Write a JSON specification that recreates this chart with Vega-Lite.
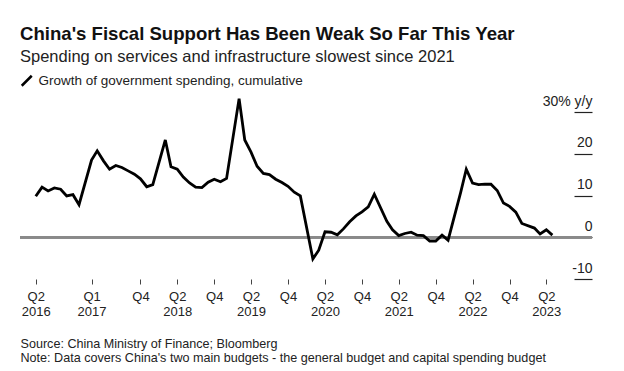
{
  "$schema": "https://vega.github.io/schema/vega-lite/v6.json",
  "width": 572,
  "height": 167,
  "autosize": {"type": "none"},
  "padding": {"left": 20, "top": 112, "right": 32, "bottom": 92},
  "background": "white",
  "title": {
    "text": "China's Fiscal Support Has Been Weak So Far This Year",
    "subtitle": "Spending on services and infrastructure slowest since 2021",
    "anchor": "start",
    "frame": "group",
    "font": "Liberation Sans",
    "fontSize": 18.6,
    "fontWeight": "bold",
    "color": "#111",
    "subtitleFont": "Liberation Sans",
    "subtitleFontSize": 16.5,
    "subtitleColor": "#222",
    "subtitlePadding": 5,
    "offset": 9
  },
  "config": {
    "view": {"stroke": null},
    "font": "Liberation Sans"
  },
  "data": {
    "values": [
      {"month": "2016-05-01", "growth": 9.8},
      {"month": "2016-06-01", "growth": 12.0},
      {"month": "2016-07-01", "growth": 11.1},
      {"month": "2016-08-01", "growth": 11.8},
      {"month": "2016-09-01", "growth": 11.5},
      {"month": "2016-10-01", "growth": 9.9},
      {"month": "2016-11-01", "growth": 10.2},
      {"month": "2016-12-01", "growth": 7.8},
      {"month": "2017-02-01", "growth": 18.5},
      {"month": "2017-03-01", "growth": 20.7},
      {"month": "2017-04-01", "growth": 18.3},
      {"month": "2017-05-01", "growth": 16.3},
      {"month": "2017-06-01", "growth": 17.2},
      {"month": "2017-07-01", "growth": 16.7},
      {"month": "2017-08-01", "growth": 15.9},
      {"month": "2017-09-01", "growth": 15.1},
      {"month": "2017-10-01", "growth": 14.0},
      {"month": "2017-11-01", "growth": 12.1},
      {"month": "2017-12-01", "growth": 12.6},
      {"month": "2018-02-01", "growth": 23.3},
      {"month": "2018-03-01", "growth": 16.9},
      {"month": "2018-04-01", "growth": 16.3},
      {"month": "2018-05-01", "growth": 14.4},
      {"month": "2018-06-01", "growth": 13.0},
      {"month": "2018-07-01", "growth": 12.0},
      {"month": "2018-08-01", "growth": 11.9},
      {"month": "2018-09-01", "growth": 13.2},
      {"month": "2018-10-01", "growth": 13.9},
      {"month": "2018-11-01", "growth": 13.3},
      {"month": "2018-12-01", "growth": 14.1},
      {"month": "2019-02-01", "growth": 33.2},
      {"month": "2019-03-01", "growth": 23.3},
      {"month": "2019-04-01", "growth": 20.4},
      {"month": "2019-05-01", "growth": 17.0},
      {"month": "2019-06-01", "growth": 15.3},
      {"month": "2019-07-01", "growth": 15.0},
      {"month": "2019-08-01", "growth": 13.9},
      {"month": "2019-09-01", "growth": 13.1},
      {"month": "2019-10-01", "growth": 12.2},
      {"month": "2019-11-01", "growth": 10.8},
      {"month": "2019-12-01", "growth": 9.9},
      {"month": "2020-02-01", "growth": -5.2},
      {"month": "2020-03-01", "growth": -3.1},
      {"month": "2020-04-01", "growth": 1.3},
      {"month": "2020-05-01", "growth": 1.2},
      {"month": "2020-06-01", "growth": 0.6},
      {"month": "2020-07-01", "growth": 2.0},
      {"month": "2020-08-01", "growth": 3.7},
      {"month": "2020-09-01", "growth": 5.1},
      {"month": "2020-10-01", "growth": 6.1},
      {"month": "2020-11-01", "growth": 7.3},
      {"month": "2020-12-01", "growth": 10.3},
      {"month": "2021-02-01", "growth": 3.8},
      {"month": "2021-03-01", "growth": 1.8},
      {"month": "2021-04-01", "growth": 0.4},
      {"month": "2021-05-01", "growth": 0.9},
      {"month": "2021-06-01", "growth": 1.2},
      {"month": "2021-07-01", "growth": 0.5},
      {"month": "2021-08-01", "growth": 0.4},
      {"month": "2021-09-01", "growth": -0.9},
      {"month": "2021-10-01", "growth": -0.9},
      {"month": "2021-11-01", "growth": 0.5},
      {"month": "2021-12-01", "growth": -0.7},
      {"month": "2022-02-01", "growth": 10.7},
      {"month": "2022-03-01", "growth": 16.3},
      {"month": "2022-04-01", "growth": 13.0},
      {"month": "2022-05-01", "growth": 12.6},
      {"month": "2022-06-01", "growth": 12.7},
      {"month": "2022-07-01", "growth": 12.7},
      {"month": "2022-08-01", "growth": 11.2},
      {"month": "2022-09-01", "growth": 8.2},
      {"month": "2022-10-01", "growth": 7.4},
      {"month": "2022-11-01", "growth": 6.0},
      {"month": "2022-12-01", "growth": 3.3},
      {"month": "2023-02-01", "growth": 2.2},
      {"month": "2023-03-01", "growth": 0.8},
      {"month": "2023-04-01", "growth": 1.8},
      {"month": "2023-05-01", "growth": 0.5}
    ]
  },
  "layer": [
    {
      "mark": {"type": "rule", "color": "#8a8a8a", "strokeWidth": 2},
      "encoding": {"y": {"datum": 0, "type": "quantitative"}}
    },
    {
      "mark": {"type": "line", "strokeWidth": 2.8, "strokeJoin": "miter"},
      "encoding": {
        "x": {
          "field": "month",
          "type": "temporal",
          "scale": {
            "type": "utc",
            "domain": [
              {"year": 2016, "month": 2, "date": 13, "utc": true},
              {"year": 2023, "month": 11, "date": 13, "utc": true}
            ]
          },
          "axis": {
            "values": [
              {"year": 2016, "month": 5, "date": 1, "utc": true},
              {"year": 2017, "month": 2, "date": 1, "utc": true},
              {"year": 2017, "month": 10, "date": 1, "utc": true},
              {"year": 2018, "month": 4, "date": 1, "utc": true},
              {"year": 2018, "month": 10, "date": 1, "utc": true},
              {"year": 2019, "month": 4, "date": 1, "utc": true},
              {"year": 2019, "month": 10, "date": 1, "utc": true},
              {"year": 2020, "month": 4, "date": 1, "utc": true},
              {"year": 2020, "month": 10, "date": 1, "utc": true},
              {"year": 2021, "month": 4, "date": 1, "utc": true},
              {"year": 2021, "month": 10, "date": 1, "utc": true},
              {"year": 2022, "month": 4, "date": 1, "utc": true},
              {"year": 2022, "month": 10, "date": 1, "utc": true},
              {"year": 2023, "month": 4, "date": 1, "utc": true}
            ],
            "labelExpr": "['Q' + (floor(utcmonth(datum.value) / 3) + 1), utcmonth(datum.value) >= 9 ? '' : '' + utcyear(datum.value)]",
            "domain": false,
            "grid": false,
            "ticks": true,
            "tickSize": 5,
            "tickColor": "#444",
            "tickWidth": 1,
            "labelFont": "Liberation Sans",
            "labelFontSize": 13,
            "labelColor": "#222",
            "labelPadding": 6,
            "labelLineHeight": 15,
            "labelOverlap": false,
            "labelFlush": false,
            "labelBaseline": "top",
            "title": [
              "Source: China Ministry of Finance; Bloomberg",
              "Note: Data covers China's two main budgets - the general budget and capital spending budget"
            ],
            "titleFont": "Liberation Sans",
            "titleFontSize": 12.6,
            "titleFontWeight": "normal",
            "titleColor": "#222",
            "titleAnchor": "start",
            "titleAlign": "left",
            "titleBaseline": "alphabetic",
            "titleX": 0,
            "titleY": 68,
            "titleLineHeight": 14
          }
        },
        "y": {
          "field": "growth",
          "type": "quantitative",
          "scale": {"domain": [-10, 30], "nice": false, "zero": false},
          "axis": {
            "orient": "right",
            "values": [-10, 0, 10, 20, 30],
            "labelExpr": "datum.value == 30 ? '30% y/y' : '' + datum.value",
            "domain": false,
            "grid": false,
            "ticks": true,
            "tickSize": -18,
            "tickColor": "#222",
            "tickWidth": 1.2,
            "labelPadding": 18,
            "labelAlign": "right",
            "labelBaseline": "alphabetic",
            "labelOffset": -7,
            "labelFont": "Liberation Sans",
            "labelFontSize": 14,
            "labelColor": "#222",
            "title": null
          }
        },
        "color": {
          "datum": "Growth of government spending, cumulative",
          "type": "nominal",
          "scale": {"range": ["#000000"]},
          "legend": {
            "orient": "none",
            "legendX": 0,
            "legendY": -38,
            "title": null,
            "padding": 0,
            "symbolType": "M-1,1L1,-1",
            "symbolSize": 100,
            "symbolStrokeWidth": 2.5,
            "symbolStrokeColor": "#000",
            "symbolFillColor": "transparent",
            "labelOffset": 5,
            "labelLimit": 500,
            "labelFont": "Liberation Sans",
            "labelFontSize": 13.5,
            "labelColor": "#222"
          }
        }
      }
    }
  ]
}
